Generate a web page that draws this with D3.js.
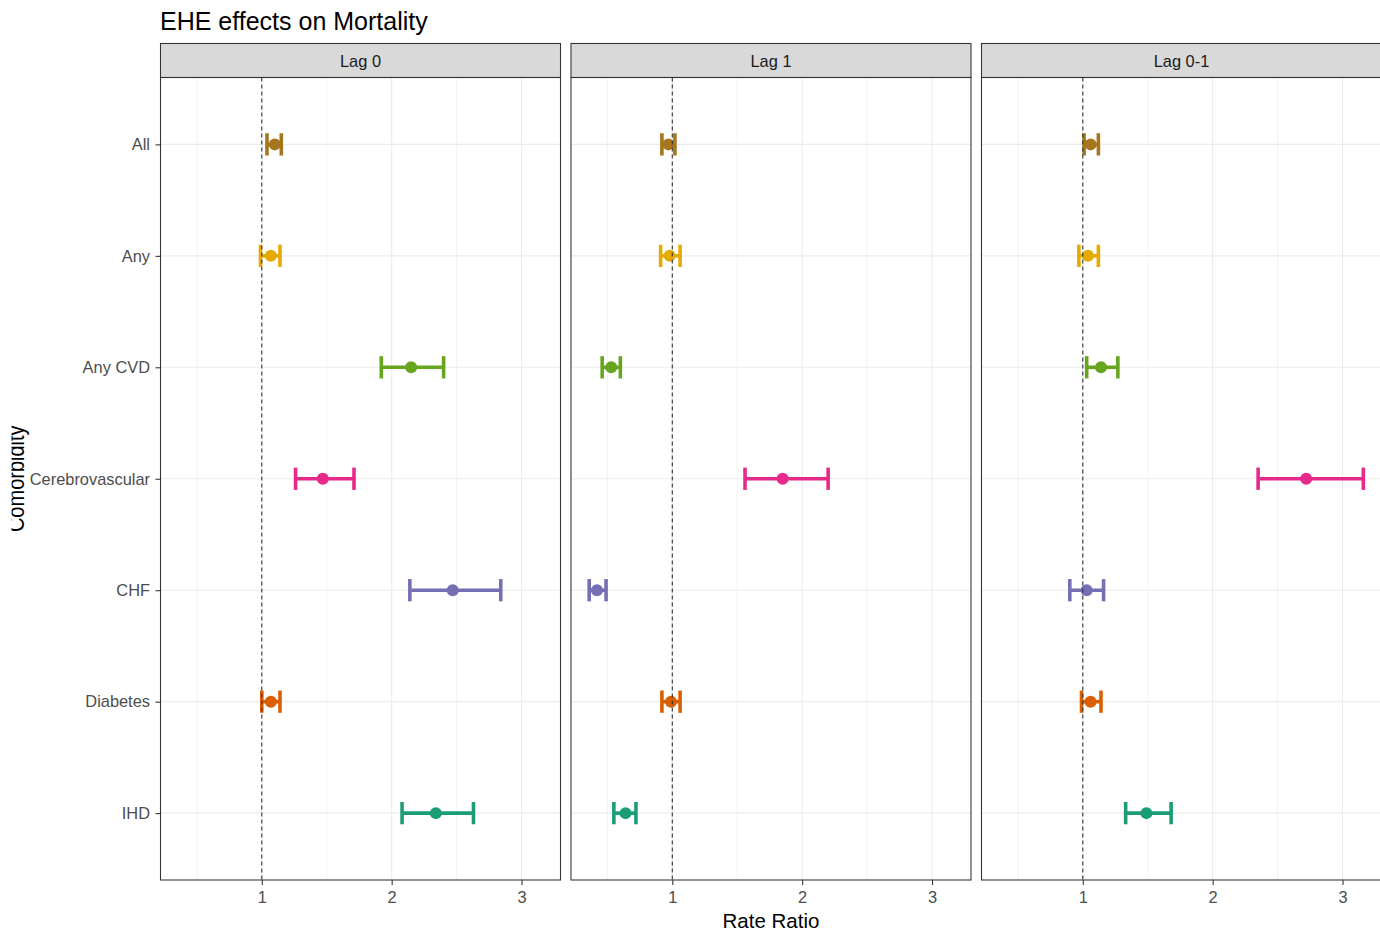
<!DOCTYPE html>
<html>
<head>
<meta charset="utf-8">
<script src="https://cdn.jsdelivr.net/npm/d3@7"></script>
<style>
    body { margin: 0; background: #fff; }
    svg { display: block; font-family: "Liberation Sans", Arial, sans-serif; }
</style>
</head>
<body>
<svg id="forestSvg" width="1380" height="937"></svg>
<script>
// comorbidity groups (top to bottom) and facet names
const categories = ["All", "Any", "Any CVD", "Cerebrovascular", "CHF", "Diabetes", "IHD"];
const lags = ["Lag 0", "Lag 1", "Lag 0-1"];
const cat_colors = ["#A6761D", "#E6AB02", "#66A61E", "#E7298A", "#7570B3", "#D95F02", "#1B9E77"];

// rate ratio + 95% CI, one array per lag, same order as categories
const rr_lag0 = [1.10, 1.07, 2.15, 1.47, 2.47, 1.07, 2.34];
const lower_lag0 = [1.04, 0.99, 1.92, 1.26, 2.14, 1.00, 2.08];
const upper_lag0 = [1.15, 1.14, 2.40, 1.71, 2.84, 1.14, 2.63];

const rr_lag1 = [0.97, 0.98, 0.53, 1.85, 0.42, 0.99, 0.64];
const lower_lag1 = [0.92, 0.91, 0.46, 1.56, 0.36, 0.92, 0.55];
const upper_lag1 = [1.02, 1.06, 0.60, 2.20, 0.49, 1.06, 0.72];

const rr_lag01 = [1.06, 1.04, 1.14, 2.72, 1.03, 1.06, 1.49];
const lower_lag01 = [1.01, 0.97, 1.03, 2.35, 0.90, 0.99, 1.33];
const upper_lag01 = [1.12, 1.12, 1.27, 3.16, 1.16, 1.14, 1.68];

const x_ticks = [1, 2, 3];
const x_minor = [0.5, 1.5, 2.5];

var forest = (function () {
    var svg = d3.select("#forestSvg");

    let panel_left = [160.5, 571, 981.5];
    let panel_w = 400;
    let panel_top = 77.5, panel_bottom = 880;
    let strip_top = 43.5;
    let rows = [
        [rr_lag0, lower_lag0, upper_lag0],
        [rr_lag1, lower_lag1, upper_lag1],
        [rr_lag01, lower_lag01, upper_lag01]
    ];

    function draw() {
        // shared x scale, 5% expansion like ggplot
        let all_lo = d3.min(rows, r => d3.min(r[1]));
        let all_hi = d3.max(rows, r => d3.max(r[2]));
        let pad = (all_hi - all_lo) * 0.05;
        let xScale = d3.scaleLinear().domain([all_lo - pad, all_hi + pad]).range([0, panel_w]);
        let yScale = d3.scalePoint().domain(categories).range([panel_top, panel_bottom]).padding(0.6);
        let capH = yScale.step() * 0.1;

        // title
        svg.append("text")
            .attr("x", 160).attr("y", 29.5)
            .style("font-size", "25px").style("fill", "#000")
            .text("EHE effects on Mortality");

        for (let p = 0; p < lags.length; p++) {
            let g = svg.append("g").attr("transform", "translate(" + panel_left[p] + ",0)");
            let rr = rows[p][0], lo = rows[p][1], hi = rows[p][2];

            // strip
            g.append("rect")
                .attr("x", 0).attr("y", strip_top)
                .attr("width", panel_w).attr("height", panel_top - strip_top)
                .style("fill", "#d9d9d9").style("stroke", "#333333").style("stroke-width", 1.07);
            g.append("text")
                .attr("x", panel_w / 2).attr("y", 67)
                .attr("text-anchor", "middle")
                .style("font-size", "16.4px").style("fill", "#1a1a1a")
                .text(lags[p]);

            // grid
            g.append("g").selectAll("line").data(x_minor).enter()
                .append("line")
                .attr("x1", d => xScale(d)).attr("x2", d => xScale(d))
                .attr("y1", panel_top).attr("y2", panel_bottom)
                .style("stroke", "#ebebeb").style("stroke-width", 0.6);
            g.append("g").selectAll("line").data(x_ticks).enter()
                .append("line")
                .attr("x1", d => xScale(d)).attr("x2", d => xScale(d))
                .attr("y1", panel_top).attr("y2", panel_bottom)
                .style("stroke", "#ebebeb").style("stroke-width", 1.1);
            g.append("g").selectAll("line").data(categories).enter()
                .append("line")
                .attr("x1", 0).attr("x2", panel_w)
                .attr("y1", d => yScale(d)).attr("y2", d => yScale(d))
                .style("stroke", "#ebebeb").style("stroke-width", 1.1);

            // error bars
            let bars = g.append("g").selectAll("g").data(categories).enter()
                .append("g")
                .style("stroke", (d, i) => cat_colors[i])
                .style("stroke-width", 3.6)
                .style("stroke-linecap", "butt");
            bars.append("line")
                .attr("x1", (d, i) => xScale(lo[i])).attr("x2", (d, i) => xScale(hi[i]))
                .attr("y1", d => yScale(d)).attr("y2", d => yScale(d));
            bars.append("line")
                .attr("x1", (d, i) => xScale(lo[i])).attr("x2", (d, i) => xScale(lo[i]))
                .attr("y1", d => yScale(d) - capH).attr("y2", d => yScale(d) + capH);
            bars.append("line")
                .attr("x1", (d, i) => xScale(hi[i])).attr("x2", (d, i) => xScale(hi[i]))
                .attr("y1", d => yScale(d) - capH).attr("y2", d => yScale(d) + capH);

            // points
            g.append("g").selectAll("circle").data(categories).enter()
                .append("circle")
                .attr("cx", (d, i) => xScale(rr[i]))
                .attr("cy", d => yScale(d))
                .attr("r", 6)
                .style("fill", (d, i) => cat_colors[i]);

            // reference line at 1
            g.append("line")
                .attr("x1", xScale(1)).attr("x2", xScale(1))
                .attr("y1", panel_top).attr("y2", panel_bottom)
                .style("stroke", "#333333").style("stroke-width", 1.1)
                .attr("stroke-dasharray", "4,3");

            // panel border
            g.append("rect")
                .attr("x", 0).attr("y", panel_top)
                .attr("width", panel_w).attr("height", panel_bottom - panel_top)
                .style("fill", "none").style("stroke", "#333333").style("stroke-width", 1.07);

            // x axis
            let x_axis = d3.axisBottom(xScale).tickValues(x_ticks).tickFormat(d3.format("d"))
                .tickSize(5).tickPadding(6);
            let ax = g.append("g")
                .attr("transform", "translate(0," + panel_bottom + ")")
                .call(x_axis);
            ax.select(".domain").remove();
            ax.selectAll("line").style("stroke", "#333333").style("stroke-width", 1.07);
            ax.selectAll("text").style("font-size", "16.4px").style("fill", "#4d4d4d")
                .style("font-family", "Liberation Sans, Arial, sans-serif");

            // y axis only on first panel
            if (p == 0) {
                let y_axis = d3.axisLeft(yScale).tickSize(5).tickPadding(5.5);
                let ay = g.append("g").call(y_axis);
                ay.select(".domain").remove();
                ay.selectAll("line").style("stroke", "#333333").style("stroke-width", 1.07);
                ay.selectAll("text").style("font-size", "16.4px").style("fill", "#4d4d4d")
                    .style("font-family", "Liberation Sans, Arial, sans-serif");
            }
        }

        // axis titles
        svg.append("text")
            .attr("x", (panel_left[0] + panel_left[2] + panel_w) / 2).attr("y", 928)
            .attr("text-anchor", "middle")
            .style("font-size", "20.5px").style("fill", "#000")
            .text("Rate Ratio");

        // y title is cut off at the left edge in the original export
        svg.append("clipPath").attr("id", "ytitleClip")
            .append("rect").attr("x", 11.5).attr("y", 0).attr("width", 40).attr("height", 937);
        svg.append("g").attr("clip-path", "url(#ytitleClip)")
            .append("text")
            .attr("transform", "translate(24," + (panel_top + panel_bottom) / 2 + ") scale(1.15,1) rotate(-90)")
            .attr("text-anchor", "middle")
            .style("font-size", "20px").style("fill", "#000")
            .text("Comorbidity");
    }

    draw();
    return { draw, svg };
})();
</script>
</body>
</html>
